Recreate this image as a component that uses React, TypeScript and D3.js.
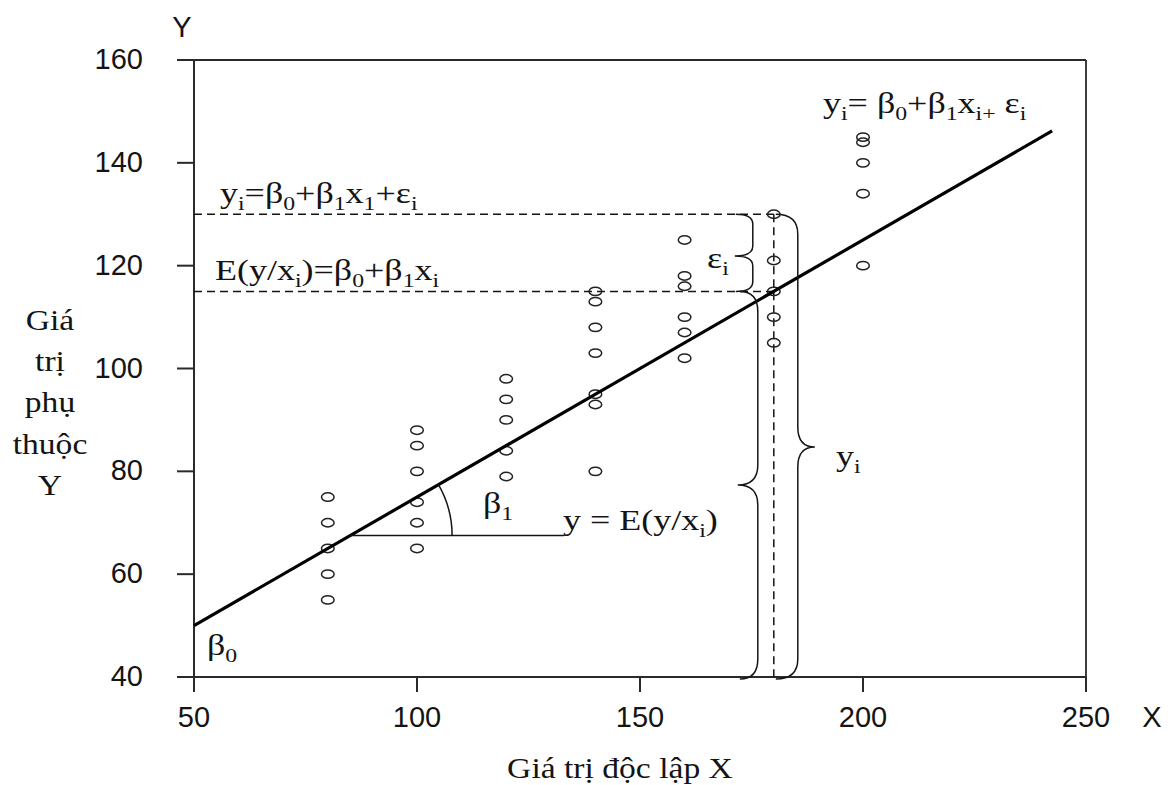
import React from "react";
import * as d3 from "d3";

// axis ticks
const xTicks = [50, 100, 150, 200, 250];
const yTicks = [40, 60, 80, 100, 120, 140, 160];

// observed values, one column per x
const colX = [80, 100, 120, 140, 160, 180, 200];
const obs80 = [75, 70, 65, 60, 55];
const obs100 = [88, 85, 80, 74, 70, 65];
const obs120 = [98, 94, 90, 84, 79];
const obs140 = [115, 113, 108, 103, 95, 93, 80];
const obs160 = [125, 118, 116, 110, 107, 102];
const obs180 = [130, 121, 115, 110, 105];
const obs200 = [145, 144, 140, 134, 120];
const obsCols = [obs80, obs100, obs120, obs140, obs160, obs180, obs200];

// regression line y = b0 + b1 x
const b0 = 25;
const b1 = 0.5;
const lineRange = [50, 242.4];

// highlighted observation
const xi = 180;
const yiObs = 130;
const yiFit = b0 + b1 * xi;
// angle marker
const angleX = 85;
const angleEndX = 133;

const W = 1171;
const H = 785;
const INK = "#141414";
const SERIF = "'Liberation Serif', 'Times New Roman', serif";
const SANS = "'Liberation Sans', Arial, sans-serif";

type Part = [string, boolean?];

function Formula({ x, y, parts, size = 30, sx = 1.2, anchor = "start" }:
  { x: number; y: number; parts: Part[]; size?: number; sx?: number; anchor?: string }) {
  let prevSub = false;
  return (
    <g transform={`translate(${x},${y}) scale(${sx},1)`}>
      <text fontFamily={SERIF} fontSize={size} fill={INK} textAnchor={anchor} style={{ whiteSpace: "pre" }}>
        {parts.map(([t, sub], i) => {
          const s = !!sub;
          const dy = s && !prevSub ? 7 : !s && prevSub ? -7 : 0;
          prevSub = s;
          return (
            <tspan key={i} dy={dy} fontSize={s ? size * 0.66 : size}>{t}</tspan>
          );
        })}
      </text>
    </g>
  );
}

// curly brace along a vertical span, dir +1 puts the tip on the right
function bracePath(s: number, y1: number, y2: number, ym: number, dir: number, curl: number, tip: number, r: number) {
  const p = d3.path();
  p.moveTo(s - dir * curl, y1);
  p.quadraticCurveTo(s, y1, s, y1 + r);
  p.lineTo(s, ym - r);
  p.quadraticCurveTo(s, ym, s + dir * tip, ym);
  p.quadraticCurveTo(s, ym, s, ym + r);
  p.lineTo(s, y2 - r);
  p.quadraticCurveTo(s, y2, s - dir * curl, y2);
  return p.toString();
}

export default function App() {
  const x = d3.scaleLinear().domain([50, 250]).range([194, 1086]);
  const y = d3.scaleLinear().domain([40, 160]).range([677, 60]);
  const [x0, x1] = x.range();
  const [yb, yt] = y.range();

  const reg = d3.line<number>().x((d) => x(d)).y((d) => y(b0 + b1 * d))(lineRange) as string;

  const points = colX.flatMap((cx, i) => obsCols[i].map((v) => ({ cx, v })));

  // angle arc
  const ay = b0 + b1 * angleX;
  const acx = x(angleX);
  const acy = y(ay);
  const theta = Math.atan2(y(ay) - y(b0 + b1 * 200), x(200) - x(angleX));
  const ar = 102;
  const arc = `M${acx + ar},${acy} A${ar},${ar} 0 0 0 ${acx + ar * Math.cos(theta)},${acy - ar * Math.sin(theta)}`;

  const px = x(xi);

  return (
    <svg width={W} height={H} style={{ position: "absolute", left: 0, top: 0, background: "#fff" }}>
      {/* frame */}
      <line x1={x0} y1={yt} x2={x1} y2={yt} stroke="#2a2a2a" strokeWidth={1.8} />
      <line x1={x1} y1={yt} x2={x1} y2={yb} stroke="#2a2a2a" strokeWidth={1.8} />
      <line x1={x0} y1={yt} x2={x0} y2={yb} stroke="#2a2a2a" strokeWidth={2} />
      <line x1={x0} y1={yb} x2={x1} y2={yb} stroke="#2a2a2a" strokeWidth={2} />

      {/* y axis */}
      {yTicks.map((t) => (
        <g key={"y" + t}>
          <line x1={x0 - 17} x2={x0} y1={y(t)} y2={y(t)} stroke="#2a2a2a" strokeWidth={2} />
          <text x={143} y={y(t) + 9} textAnchor="end" fontFamily={SANS} fontSize={29} fill={INK}>{t}</text>
        </g>
      ))}
      {/* x axis */}
      {xTicks.map((t) => (
        <g key={"x" + t}>
          <line x1={x(t)} x2={x(t)} y1={yb} y2={yb + 15} stroke="#2a2a2a" strokeWidth={2} />
          <text x={x(t)} y={727} textAnchor="middle" fontFamily={SANS} fontSize={29} fill={INK}>{t}</text>
        </g>
      ))}
      <text x={182} y={37} textAnchor="middle" fontFamily={SANS} fontSize={29} fill={INK}>Y</text>
      <text x={1152} y={727} textAnchor="middle" fontFamily={SANS} fontSize={29} fill={INK}>X</text>

      {/* axis titles */}
      {["Giá", "trị", "phụ", "thuộc", "Y"].map((w, i) => (
        <g key={w} transform={`translate(50,${330 + i * 41.2}) scale(1.12,1)`}>
          <text textAnchor="middle" fontFamily={SERIF} fontSize={30} fill={INK}>{w}</text>
        </g>
      ))}
      <g transform={`translate(620,778) scale(1.12,1)`}>
        <text textAnchor="middle" fontFamily={SERIF} fontSize={30} fill={INK}>Giá trị độc lập X</text>
      </g>

      {/* dashed guides */}
      <line x1={x0} x2={px} y1={y(yiObs)} y2={y(yiObs)} stroke={INK} strokeWidth={1.5} strokeDasharray="8,5" />
      <line x1={x0} x2={px} y1={y(yiFit)} y2={y(yiFit)} stroke={INK} strokeWidth={1.5} strokeDasharray="8,5" />
      <line x1={px} x2={px} y1={y(yiObs)} y2={yb} stroke={INK} strokeWidth={1.5} strokeDasharray="8,5" />

      {/* observations */}
      {points.map((p, i) => (
        <ellipse key={i} cx={x(p.cx)} cy={y(p.v)} rx={6.3} ry={4.2} fill="none" stroke="#222" strokeWidth={1.5} />
      ))}

      {/* regression line */}
      <path d={reg} fill="none" stroke="#000" strokeWidth={3.2} />

      {/* angle marker */}
      <line x1={acx} x2={x(angleEndX)} y1={acy} y2={acy} stroke={INK} strokeWidth={1.5} />
      <path d={arc} fill="none" stroke={INK} strokeWidth={1.5} />

      {/* braces */}
      <path d={bracePath(px + 24, y(yiObs), yb + 2, 447, 1, 22, 17, 20)} fill="none" stroke={INK} strokeWidth={1.5} />
      <path d={bracePath(px - 16, y(yiFit), yb + 2, 485, -1, -18, 20, 20)} fill="none" stroke={INK} strokeWidth={1.5} />
      <path d={bracePath(px - 21, y(yiObs), y(yiFit), 256, -1, -17, 18, 10)} fill="none" stroke={INK} strokeWidth={1.5} />

      {/* annotations */}
      <Formula x={220} y={203} parts={[["y"], ["i", true], ["=β"], ["0", true], ["+β"], ["1", true], ["x"], ["1", true], ["+ε"], ["i", true]]} />
      <Formula x={215} y={280} parts={[["E(y/x"], ["i", true], [")=β"], ["0", true], ["+β"], ["1", true], ["x"], ["i", true]]} />
      <Formula x={823} y={113} parts={[["y"], ["i", true], ["= β"], ["0", true], ["+β"], ["1", true], ["x"], ["i+", true], [" ε"], ["i", true]]} />
      <Formula x={707} y={268} parts={[["ε"], ["i", true]]} />
      <Formula x={836} y={466} parts={[["y"], ["i", true]]} />
      <Formula x={483} y={513} parts={[["β"], ["1", true]]} />
      <Formula x={563} y={530} parts={[["y = E(y/x"], ["i", true], [")"]]} />
      <Formula x={207} y={655} parts={[["β"], ["0", true]]} />
    </svg>
  );
}
